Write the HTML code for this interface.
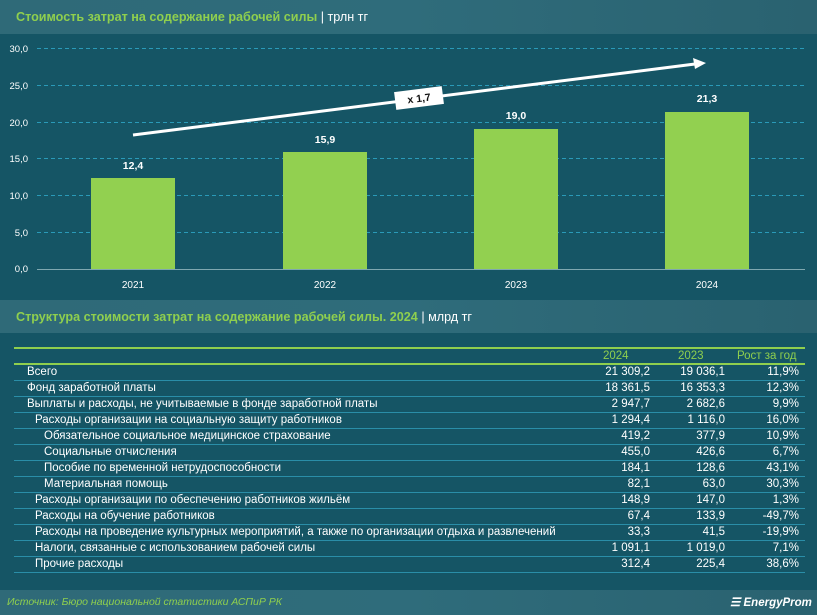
<!DOCTYPE html>
<html><head><meta charset="utf-8"><style>
*{margin:0;padding:0;box-sizing:border-box}
body{width:817px;height:615px;background:#155565;font-family:"Liberation Sans",sans-serif;position:relative;overflow:hidden;color:#fff}
.hdr{position:absolute;left:0;width:817px;background:linear-gradient(90deg,#2f6a78,#2f6c7b 50%,#2a6270);}
.hdr span.t{position:absolute;left:16px;font-weight:bold;font-size:12.6px;color:#8fcf4e}
.hdr span.u{color:#fff;font-weight:normal}
.row{position:absolute;left:14px;width:791px;height:16px;border-bottom:1px solid #2a8ea8;font-size:11.5px;line-height:15px}
.row .n{position:absolute;white-space:nowrap}
.row .a,.row .b,.row .c{position:absolute;text-align:right;width:80px}
.a{left:556px}.b{left:631px}.c{left:705px}
</style></head><body>
<div class="hdr" style="top:0;height:34px"><span class="t" style="top:10px">Стоимость затрат на содержание рабочей силы <span class="u">| трлн тг</span></span></div>
<svg style="position:absolute;left:0;top:34px" width="817" height="266" viewBox="0 34 817 266">
<g font-family="Liberation Sans" font-size="9.5" fill="#fff" text-anchor="end">
<text x="28" y="52">30,0</text><text x="28" y="89">25,0</text><text x="28" y="126">20,0</text><text x="28" y="162">15,0</text><text x="28" y="199">10,0</text><text x="28" y="236">5,0</text><text x="28" y="272">0,0</text>
</g>
<g stroke="#2a9ab8" stroke-dasharray="4,3" stroke-width="1">
<line x1="37" x2="805" y1="48.5" y2="48.5"/><line x1="37" x2="805" y1="85.5" y2="85.5"/><line x1="37" x2="805" y1="122.5" y2="122.5"/><line x1="37" x2="805" y1="158.5" y2="158.5"/><line x1="37" x2="805" y1="195.5" y2="195.5"/><line x1="37" x2="805" y1="232.5" y2="232.5"/>
</g>
<line x1="37" x2="805" y1="269.5" y2="269.5" stroke="#7fa8b0"/>
<g fill="#92d050">
<rect x="91" y="178" width="84" height="91"/><rect x="283" y="152" width="84" height="117"/><rect x="474" y="129" width="84" height="140"/><rect x="665" y="112" width="84" height="157"/>
</g>
<g font-size="10.5" font-weight="bold" fill="#fff" text-anchor="middle">
<text x="133" y="169">12,4</text><text x="325" y="143">15,9</text><text x="516" y="119">19,0</text><text x="707" y="102">21,3</text>
</g>
<g font-size="10" fill="#fff" text-anchor="middle">
<text x="133" y="288">2021</text><text x="325" y="288">2022</text><text x="516" y="288">2023</text><text x="707" y="288">2024</text>
</g>
<line x1="133" y1="135" x2="695" y2="64" stroke="#fff" stroke-width="3"/>
<polygon points="706,63 693,58 695,69" fill="#fff"/>
<g transform="translate(419,98) rotate(-7.2)"><rect x="-24" y="-9" width="48" height="18" fill="#fff"/><text x="0" y="4" font-size="10.5" font-weight="bold" fill="#111" text-anchor="middle">x 1,7</text></g>
</svg>
<div class="hdr" style="top:300px;height:33px"><span class="t" style="top:10px">Структура стоимости затрат на содержание рабочей силы. 2024 <span class="u">| млрд тг</span></span></div>
<div style="position:absolute;left:14px;top:347px;width:791px;height:2px;background:#8fcf4e"></div>
<div style="position:absolute;left:14px;top:363px;width:791px;height:2px;background:#8fcf4e"></div>
<div style="position:absolute;top:350px;left:0;width:817px;font-size:11.5px;color:#8fcf4e">
<span style="position:absolute;left:603px">2024</span><span style="position:absolute;left:678px">2023</span><span style="position:absolute;left:737px">Рост за год</span></div>
<div class="row" style="top:365px"><span class="n" style="left:13px">Всего</span><span class="a">21 309,2</span><span class="b">19 036,1</span><span class="c">11,9%</span></div>
<div class="row" style="top:381px"><span class="n" style="left:13px">Фонд заработной платы</span><span class="a">18 361,5</span><span class="b">16 353,3</span><span class="c">12,3%</span></div>
<div class="row" style="top:397px"><span class="n" style="left:13px">Выплаты и расходы, не учитываемые в фонде заработной платы</span><span class="a">2 947,7</span><span class="b">2 682,6</span><span class="c">9,9%</span></div>
<div class="row" style="top:413px"><span class="n" style="left:21px">Расходы организации на социальную защиту работников</span><span class="a">1 294,4</span><span class="b">1 116,0</span><span class="c">16,0%</span></div>
<div class="row" style="top:429px"><span class="n" style="left:30px">Обязательное социальное медицинское страхование</span><span class="a">419,2</span><span class="b">377,9</span><span class="c">10,9%</span></div>
<div class="row" style="top:445px"><span class="n" style="left:30px">Социальные отчисления</span><span class="a">455,0</span><span class="b">426,6</span><span class="c">6,7%</span></div>
<div class="row" style="top:461px"><span class="n" style="left:30px">Пособие по временной нетрудоспособности</span><span class="a">184,1</span><span class="b">128,6</span><span class="c">43,1%</span></div>
<div class="row" style="top:477px"><span class="n" style="left:30px">Материальная помощь</span><span class="a">82,1</span><span class="b">63,0</span><span class="c">30,3%</span></div>
<div class="row" style="top:493px"><span class="n" style="left:21px">Расходы организации по обеспечению работников жильём</span><span class="a">148,9</span><span class="b">147,0</span><span class="c">1,3%</span></div>
<div class="row" style="top:509px"><span class="n" style="left:21px">Расходы на обучение работников</span><span class="a">67,4</span><span class="b">133,9</span><span class="c">-49,7%</span></div>
<div class="row" style="top:525px"><span class="n" style="left:21px">Расходы на проведение культурных мероприятий, а также по организации отдыха и развлечений</span><span class="a">33,3</span><span class="b">41,5</span><span class="c">-19,9%</span></div>
<div class="row" style="top:541px"><span class="n" style="left:21px">Налоги, связанные с использованием рабочей силы</span><span class="a">1 091,1</span><span class="b">1 019,0</span><span class="c">7,1%</span></div>
<div class="row" style="top:557px"><span class="n" style="left:21px">Прочие расходы</span><span class="a">312,4</span><span class="b">225,4</span><span class="c">38,6%</span></div>
<div class="hdr" style="top:590px;height:25px"><span style="position:absolute;left:7px;top:6px;font-size:10.5px;font-style:italic;color:#8fcf4e">Источник: Бюро национальной статистики АСПиР РК</span>
<span style="position:absolute;left:730px;top:5px;font-size:11.5px;font-weight:bold;font-style:italic;color:#fff">☰ EnergyProm</span></div>
</body></html>
